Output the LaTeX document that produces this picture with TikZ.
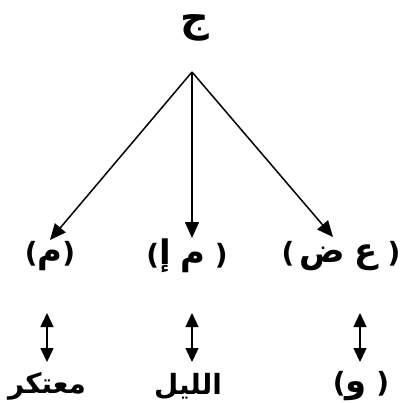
\documentclass[tikz,border=0pt]{standalone}
\usepackage{fontspec}
\setmainfont{DejaVu Sans}
\newfontfamily\latinfont{DejaVu Sans}
\newfontfamily\arabicfont[Script=Arabic]{DejaVu Sans}
\TeXXeTstate=1
\usetikzlibrary{arrows.meta}
\newcommand\pL{\hbox{\latinfont(}}
\newcommand\pR{\hbox{\latinfont)}}
\newcommand\ag[1]{\hbox{\beginR #1\endR}}
\newcommand\al[1]{\hbox{\fontsize{34}{36}\selectfont\beginR #1\endR}}
\begin{document}
\begin{tikzpicture}[x=1bp,y=-1bp,
  lbl/.style={font=\arabicfont\bfseries\fontsize{28}{30}\selectfont, inner sep=0pt, anchor=center},
  wordlbl/.style={font=\arabicfont\bfseries\fontsize{28}{30}\selectfont, inner sep=0pt, anchor=center},
  toplbl/.style={font=\arabicfont\bfseries\fontsize{40}{42}\selectfont, inner sep=0pt, anchor=center},
  conn/.style={line width=1.5bp, -{Triangle[length=16bp,width=14bp]}},
  dbl/.style={line width=1.5bp, {Triangle[length=14bp,width=13bp]}-{Triangle[length=14bp,width=13bp]}}]
\useasboundingbox (0,0) rectangle (404,403);
\node[toplbl] (top) at (195,28) {\ag{ج}};
\coordinate (apex) at (192,72);
\node[lbl] (m1) at (50,256) {\pL\al{م}\pR};
\node[lbl] (m2) at (187,256) {\pL\al{إ} \al{م} \pR};
\node[lbl] (m3) at (341,256) {\pL\kern5bp\al{ض} \al{ع} \pR};
\coordinate (t1) at (50,240);
\coordinate (t2) at (192,238);
\coordinate (t3) at (333,237);
\draw[conn] (apex) -- (t1);
\draw[conn] (apex) -- (t2);
\draw[conn] (apex) -- (t3);
\coordinate (a1) at (47,313); \coordinate (b1) at (47,362);
\coordinate (a2) at (192,313); \coordinate (b2) at (192,362);
\coordinate (a3) at (360,313); \coordinate (b3) at (360,362);
\draw[dbl] (a1) -- (b1);
\draw[dbl] (a2) -- (b2);
\draw[dbl] (a3) -- (b3);
\node[wordlbl] (w1) at (47,386) {\ag{معتكر}};
\node[wordlbl] (w2) at (188,386) {\ag{الليل}};
\node[lbl] (w3) at (361,386) {\pL\al{و} \pR};
\end{tikzpicture}
\end{document}
